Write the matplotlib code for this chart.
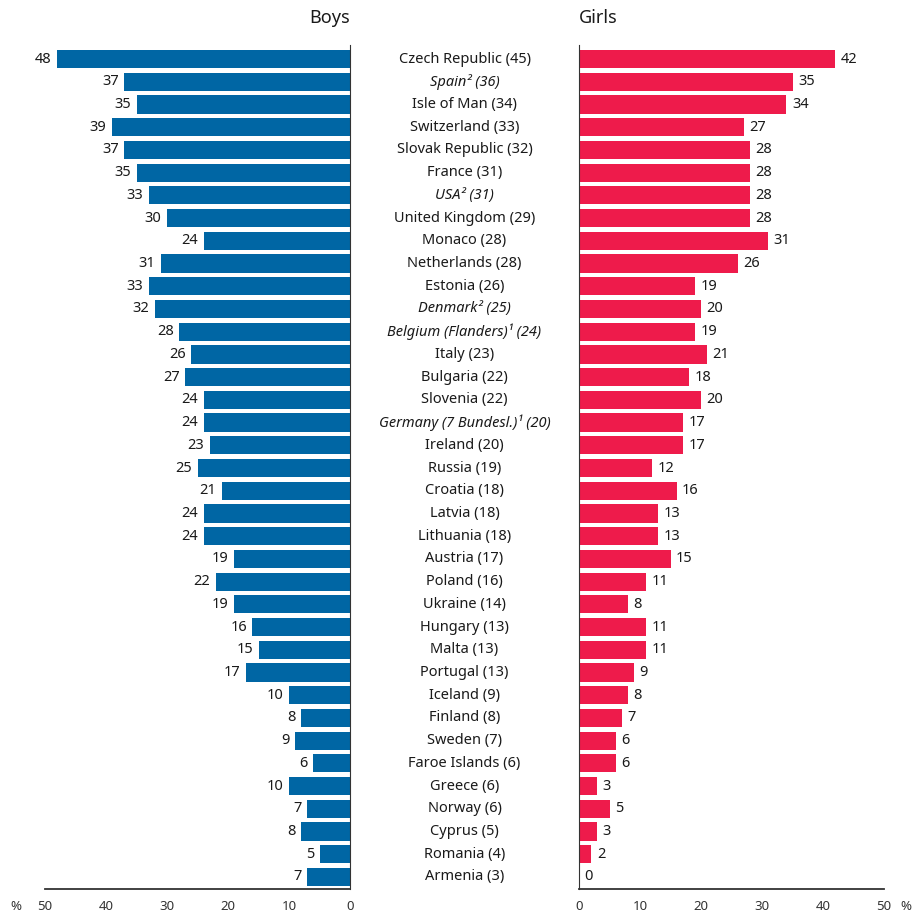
import matplotlib
matplotlib.use("Agg")
import matplotlib.pyplot as plt
from matplotlib.transforms import blended_transform_factory

plt.rcParams['font.family'] = ['Noto Sans', 'DejaVu Sans']

countries = [
    "Czech Republic (45)", "Spain² (36)", "Isle of Man (34)", "Switzerland (33)",
    "Slovak Republic (32)", "France (31)", "USA² (31)", "United Kingdom (29)",
    "Monaco (28)", "Netherlands (28)", "Estonia (26)", "Denmark² (25)",
    "Belgium (Flanders)¹ (24)", "Italy (23)", "Bulgaria (22)", "Slovenia (22)",
    "Germany (7 Bundesl.)¹ (20)", "Ireland (20)", "Russia (19)", "Croatia (18)",
    "Latvia (18)", "Lithuania (18)", "Austria (17)", "Poland (16)",
    "Ukraine (14)", "Hungary (13)", "Malta (13)", "Portugal (13)",
    "Iceland (9)", "Finland (8)", "Sweden (7)", "Faroe Islands (6)",
    "Greece (6)", "Norway (6)", "Cyprus (5)", "Romania (4)", "Armenia (3)",
]
italic = {"Spain² (36)", "USA² (31)", "Denmark² (25)",
          "Belgium (Flanders)¹ (24)", "Germany (7 Bundesl.)¹ (20)"}
boys = [48, 37, 35, 39, 37, 35, 33, 30, 24, 31, 33, 32, 28, 26, 27, 24, 24, 23, 25,
        21, 24, 24, 19, 22, 19, 16, 15, 17, 10, 8, 9, 6, 10, 7, 8, 5, 7]
girls = [42, 35, 34, 27, 28, 28, 28, 28, 31, 26, 19, 20, 19, 21, 18, 20, 17, 17, 12,
         16, 13, 13, 15, 11, 8, 11, 11, 9, 8, 7, 6, 6, 3, 5, 3, 2, 0]
ticks = [0, 10, 20, 30, 40, 50]

blue = '#0066a4'
red = '#ee1b4b'
W, H = 921, 917

fig = plt.figure(figsize=(W / 100, H / 100), dpi=100)
bottom = 1 - 889 / H
height = (889 - 45) / H
ax_l = fig.add_axes([45 / W, bottom, 305 / W, height])
ax_r = fig.add_axes([579 / W, bottom, 305 / W, height])

y = list(range(len(countries)))
n = len(countries)

for ax, vals, col, off, ha in [(ax_l, boys, blue, -4, 'right'), (ax_r, girls, red, 4, 'left')]:
    ax.barh(y, vals, height=0.8, color=col)
    for yi, v in zip(y, vals):
        ax.annotate(str(v), (v, yi), xytext=(off, 0), textcoords='offset points',
                    ha=ha, va='center', fontsize=10.5, color='#1a1a1a')
    ax.set_xlim(0, 50)
    ax.set_ylim(n - 1 + 0.53, -0.62)
    ax.set_yticks([])
    ax.set_xticks(ticks)
    ax.tick_params(axis='x', length=0, pad=8, labelsize=9.5, labelcolor='#333333')
    ax.spines['top'].set_visible(False)
    ax.spines['bottom'].set_linewidth(1.3)
    ax.spines['bottom'].set_color('#333333')

ax_l.invert_xaxis()
ax_l.spines['left'].set_visible(False)
ax_l.spines['right'].set_color('#333333')
ax_r.spines['right'].set_visible(False)
ax_r.spines['left'].set_color('#333333')

trans = blended_transform_factory(fig.transFigure, ax_r.transData)
for i, c in enumerate(countries):
    fig.text(464.5 / W, i, c, transform=trans, ha='center', va='center',
             fontsize=10.5, color='#1a1a1a',
             style='italic' if c in italic else 'normal')

fig.text(350 / W, 1 - 18 / H, "Boys", ha='right', va='center', fontsize=13, color='#1a1a1a')
fig.text(579 / W, 1 - 18 / H, "Girls", ha='left', va='center', fontsize=13, color='#1a1a1a')
fig.text(10 / W, 1 - 907 / H, "%", ha='left', va='center', fontsize=9.5, color='#333333')
fig.text(911 / W, 1 - 907 / H, "%", ha='right', va='center', fontsize=9.5, color='#333333')

fig.savefig("out.png", dpi=100)
